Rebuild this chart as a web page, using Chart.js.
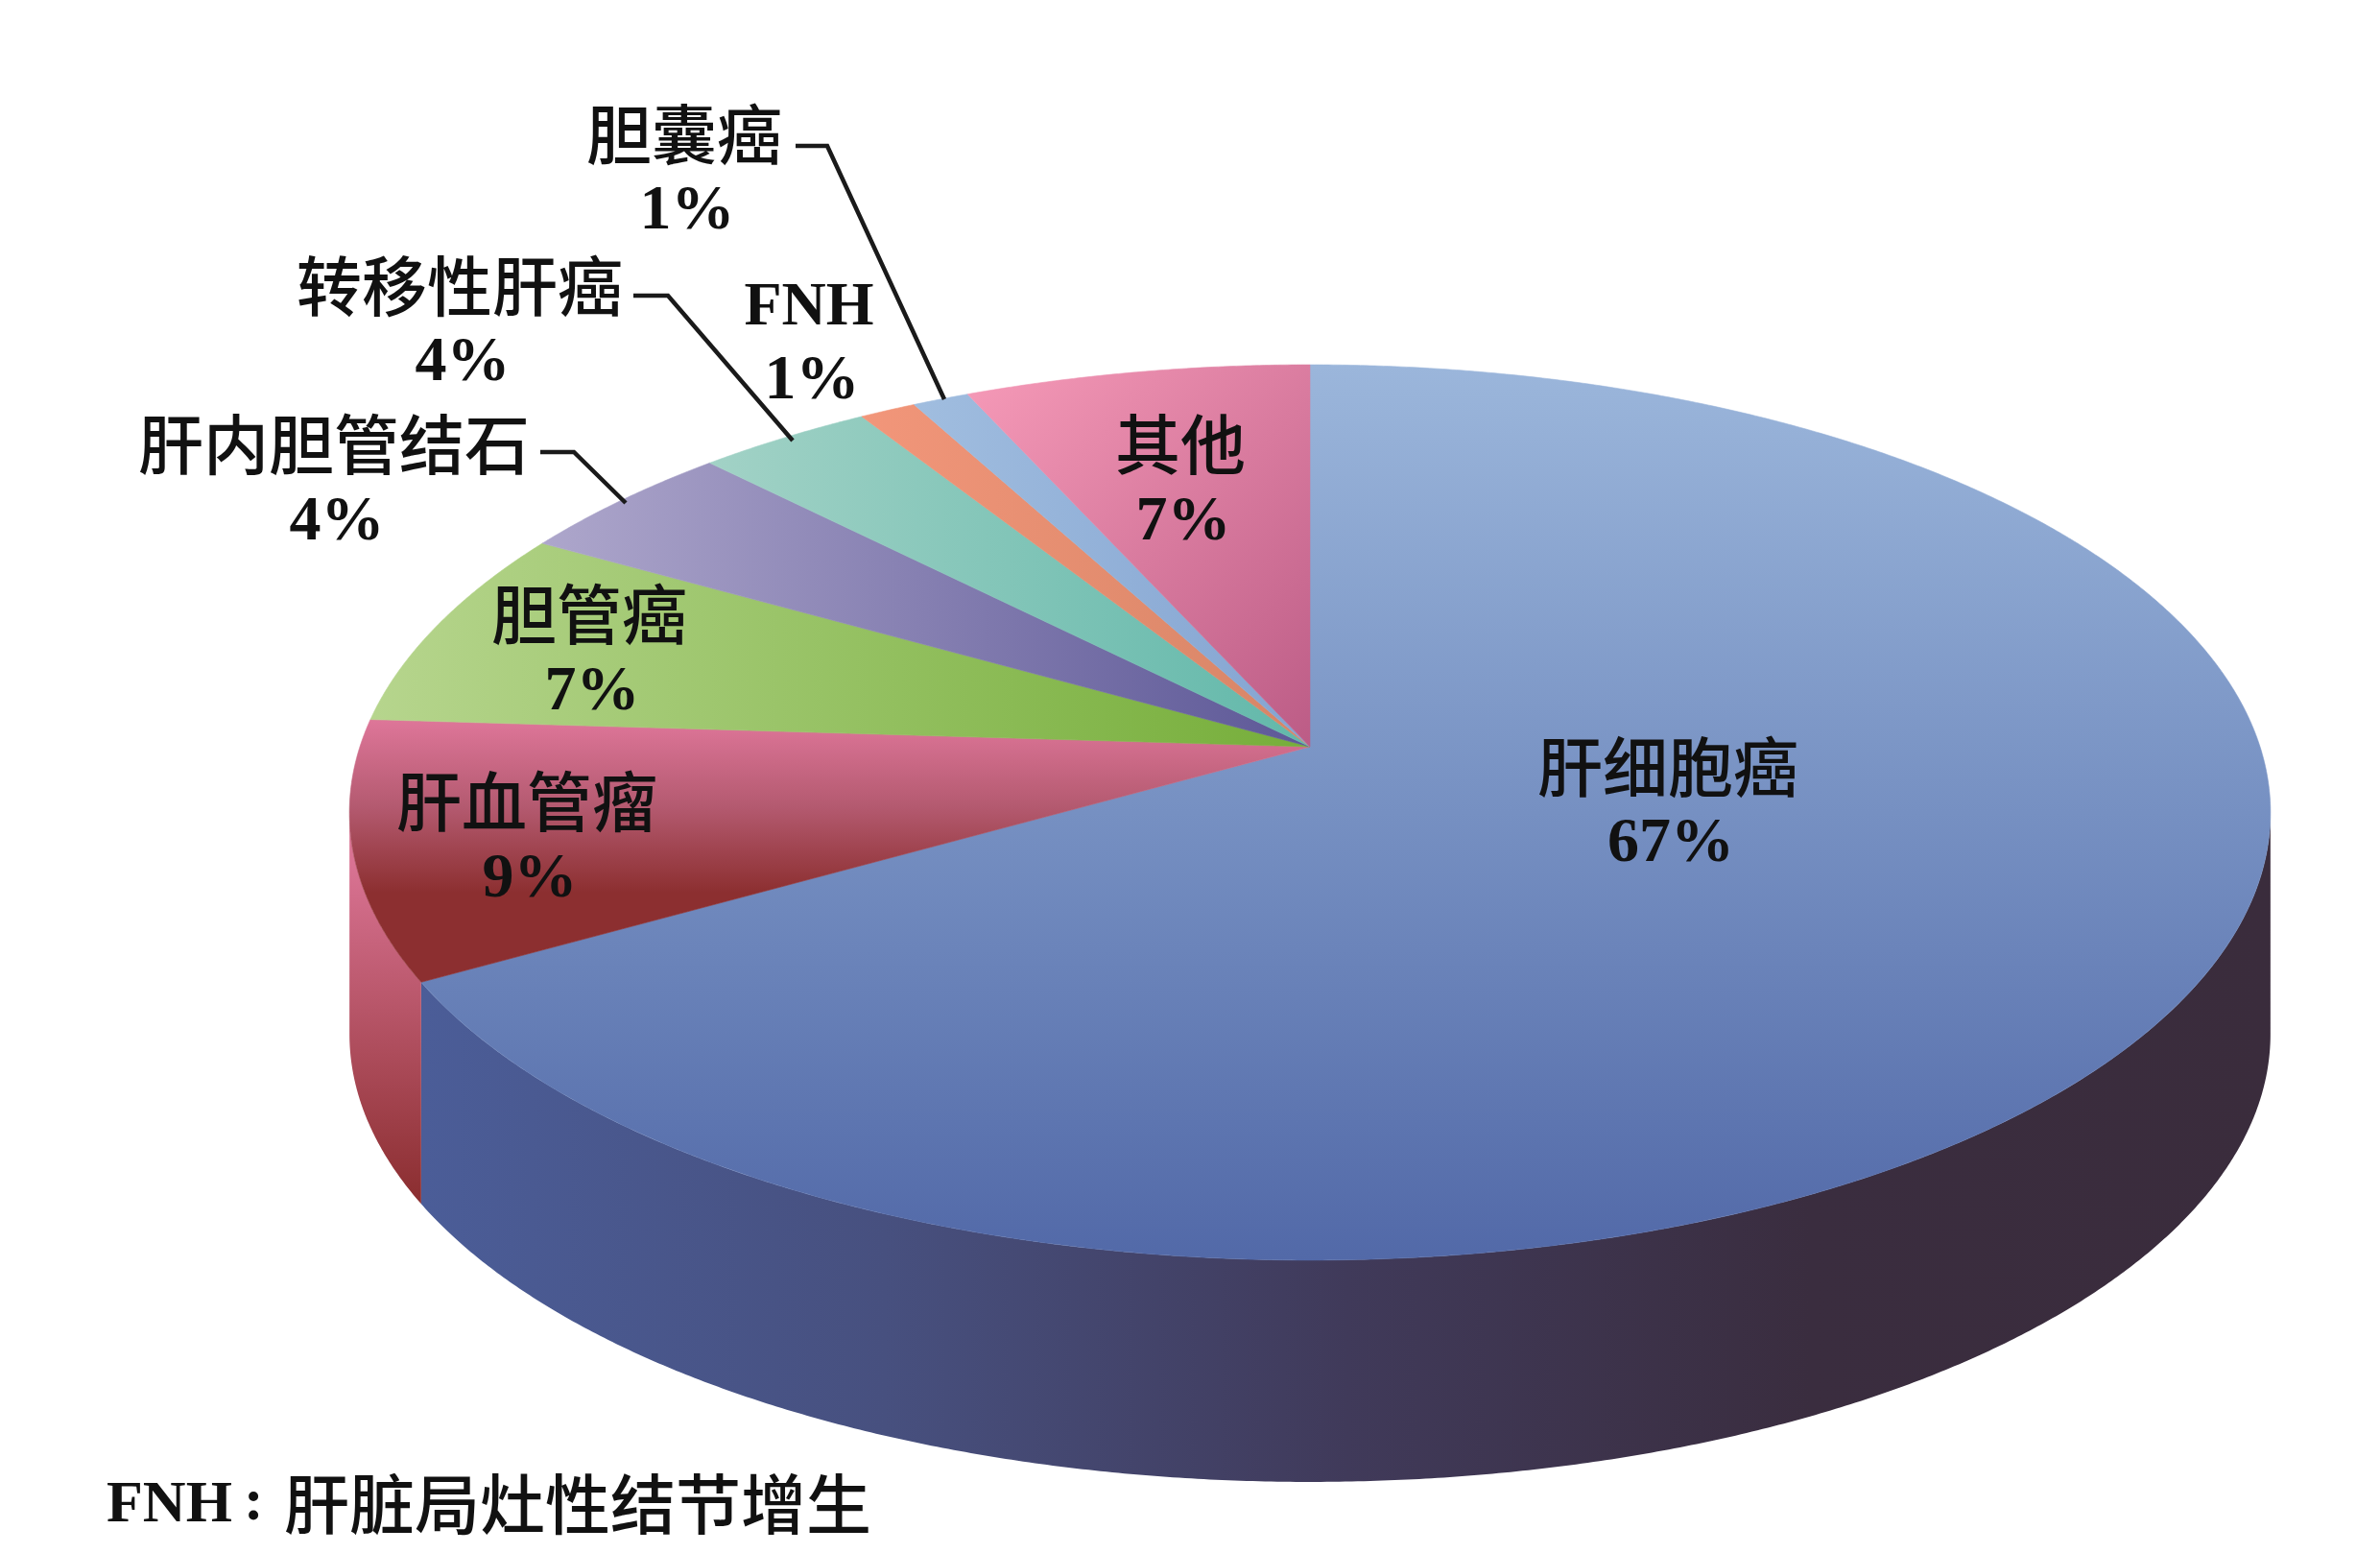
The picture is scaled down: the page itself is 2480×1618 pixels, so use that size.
<!DOCTYPE html>
<html lang="zh">
<head>
<meta charset="utf-8">
<style>html,body{margin:0;padding:0;background:#fff}canvas{display:block}</style>
<script src="https://cdn.jsdelivr.net/npm/chart.js@4"></script>
</head>
<body>
<canvas id="c" width="2480" height="1618"></canvas>
<script>
const categories = ['肝细胞癌','肝血管瘤','胆管癌','肝内胆管结石','转移性肝癌','FNH','胆囊癌','其他'];
// printed percentages
const percents = [67,9,7,4,4,1,1,7];
const shares = [66.7,9.3,7.3,4.4,3.4,1.1,1.1,6.7];
const footnoteAbbr = 'FNH';
const footnoteText = '肝脏局灶性结节增生';

// --- view geometry (perspective of a tilted disc) ---
const VIEW = {cx:1365, ay:778, a:990, b:456.4, p:0.1468, depth:231};
const project = (th, dy=0) => {
  const u=Math.sin(th), v=Math.cos(th), w=1+VIEW.p*v;
  return [VIEW.cx+VIEW.a*u/w, VIEW.ay-VIEW.b*v/w+dy];
};
// silhouette tangents of the disc: the wall is only visible between them
const thRight = Math.acos(-VIEW.p), thLeft = 2*Math.PI-thRight;
// label centres [name x,y , percent x,y]
const labelPos = [[1738,799,1741,880],[549,835,552,917],[614,640,617,722],[348,463,351,545],
                  [479,298,482,379],[843,321,846,398],[713,140,716,221],[1230,463,1233,545]];
const leaders = [[[829,152],[862,152],[984,416]],[[660,308],[696,308],[826,459]],[[563,471],[598,471],[652,524]]];
// top-face gradients: x0,y0,x1,y1,stops
const topFill = [
  [0,380,0,1313,['#9bb6db','#7690c2','#5269a8']],
  [0,750,0,930,['#de7699','#b45a70','#8c2f30']],
  [390,0,1360,0,['#b6d58d','#76ae3a']],
  [570,0,1360,0,['#ada6cb','#5d5897']],
  [740,0,1360,0,['#a2d2c6','#62b8aa']],
  [900,0,1360,0,['#f2967a','#d78566']],
  [960,0,1360,0,['#a0bddf','#84a4d1']],
  [1000,420,1360,780,['#f498b6','#bc5c86']],
];
// outer-wall gradients
const wallFill = [
  [439,0,2368,0,['#4b5d98','#47507f','#403a5a','#3a2d3f','#3a2c3c']],
  [0,900,0,1250,['#d97393','#8b2e30']],
];
function grad(ctx,g){
  const lg=ctx.createLinearGradient(g[0],g[1],g[2],g[3]);
  g[4].forEach((c,i)=>lg.addColorStop(i/(g[4].length-1),c));
  return lg;
}
function put(ctx,t,x,y,font){ctx.font=font;ctx.fillText(t,x,y);}

const pie3d = {
  id:'pie3d',
  beforeDatasetDraw(chart,args){
    const ctx=chart.ctx, arcs=chart.getDatasetMeta(args.index).data;
    ctx.save();
    const angles=arcs.map(e=>{
      const q=e.getProps(['startAngle','endAngle'],true);
      return [q.startAngle+Math.PI/2,q.endAngle+Math.PI/2];
    });
    // walls
    wallFill.forEach((g,i)=>{
      const s=Math.max(angles[i][0],thRight), e=Math.min(angles[i][1],thLeft), n=Math.ceil((e-s)*180);
      ctx.beginPath();
      for(let k=0;k<=n;k++){const t=s+(e-s)*k/n,P=project(t);k?ctx.lineTo(P[0],P[1]):ctx.moveTo(P[0],P[1]);}
      for(let k=n;k>=0;k--){const t=s+(e-s)*k/n,P=project(t,VIEW.depth);ctx.lineTo(P[0],P[1]);}
      ctx.closePath();ctx.fillStyle=grad(ctx,g);ctx.fill();
    });
    // top faces
    angles.forEach(([s,e],i)=>{
      const n=Math.max(4,Math.ceil((e-s)*180));
      ctx.beginPath();ctx.moveTo(VIEW.cx,VIEW.ay);
      for(let k=0;k<=n;k++){const P=project(s+(e-s)*k/n);ctx.lineTo(P[0],P[1]);}
      ctx.closePath();
      const f=grad(ctx,topFill[i]);
      ctx.fillStyle=f;ctx.strokeStyle=f;ctx.lineWidth=0.6;ctx.fill();ctx.stroke();
    });
    ctx.restore();
    return false;
  },
  afterDraw(chart){
    const ctx=chart.ctx;ctx.save();
    ctx.strokeStyle='#1a1a1a';ctx.lineWidth=4.5;ctx.lineJoin='miter';
    leaders.forEach(l=>{ctx.beginPath();l.forEach((p,i)=>i?ctx.lineTo(p[0],p[1]):ctx.moveTo(p[0],p[1]));ctx.stroke();});
    ctx.fillStyle='#111';ctx.textAlign='center';ctx.textBaseline='middle';
    const cjk='500 68px "Noto Sans CJK SC"', lat='bold 66px "Liberation Serif"';
    categories.forEach((c,i)=>{
      const p=labelPos[i];
      put(ctx,c,p[0],p[1],c==='FNH'?'bold 64px "Liberation Serif"':cjk);
      put(ctx,percents[i]+'%',p[2],p[3],lat);
    });
    ctx.textAlign='left';
    put(ctx,footnoteAbbr,111,1569,'bold 62px "Liberation Serif"');
    put(ctx,':',254,1567,'bold 62px "Liberation Serif"');
    put(ctx,footnoteText,296,1567,cjk);
    ctx.restore();
  }
};

new Chart(document.getElementById('c'),{
  type:'pie',
  data:{labels:categories,datasets:[{data:shares,borderWidth:0,backgroundColor:'#7690c2'}]},
  options:{responsive:false,devicePixelRatio:1,animation:false,
    plugins:{legend:{display:false},tooltip:{enabled:false}}},
  plugins:[pie3d]
});
</script>
</body>
</html>
